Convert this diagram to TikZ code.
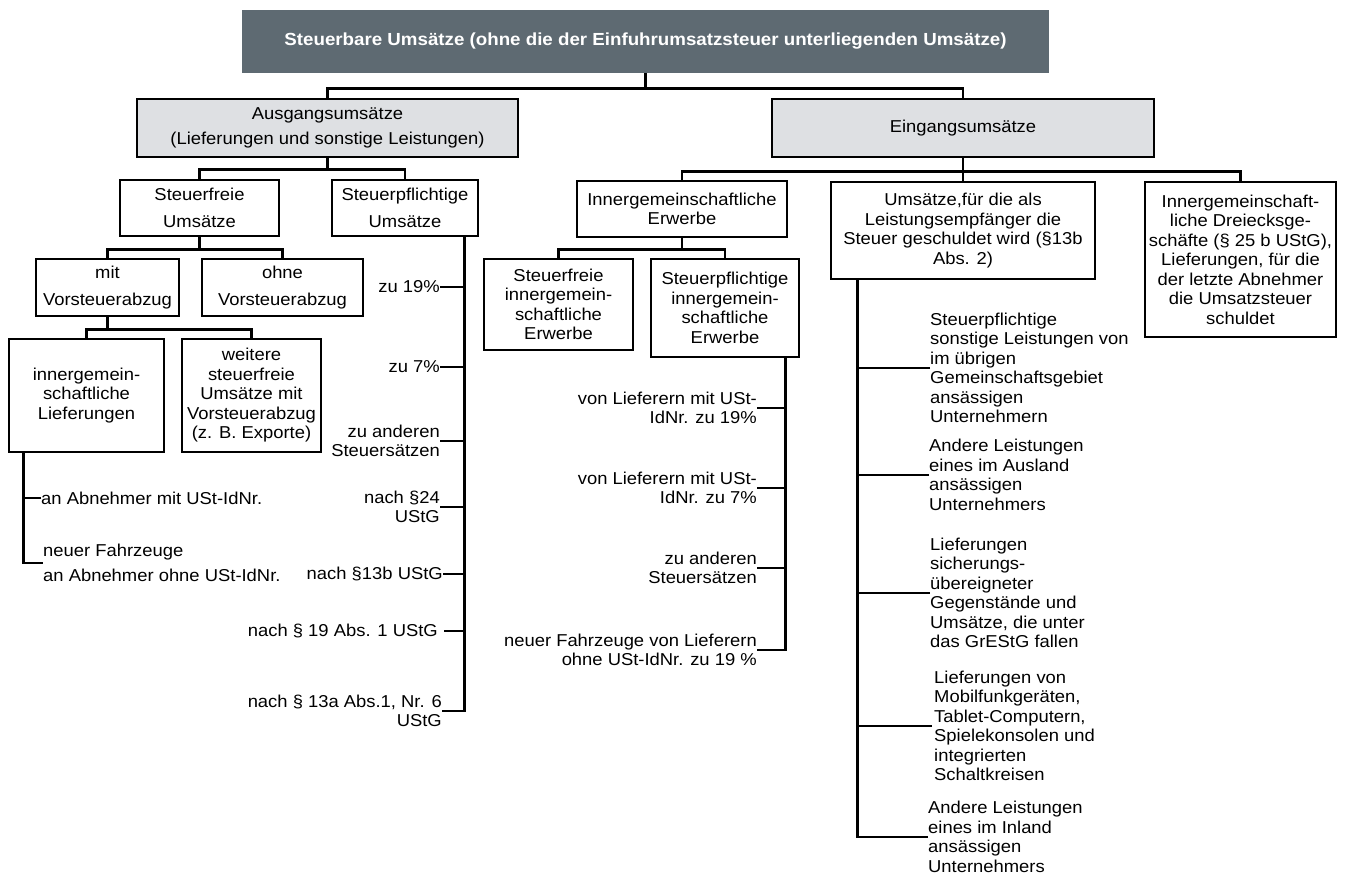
\documentclass[tikz,border=0pt]{standalone}
\usepackage{fontspec}
\setmainfont{Liberation Sans}[FakeStretch=1.07]
\definecolor{titlegray}{RGB}{94,106,114}
\definecolor{boxgray}{RGB}{222,224,227}
\newcommand\bodyfs{\fontsize{17.2}{19.5}\selectfont}
\newcommand\titlefs{\fontsize{17.5}{20}\selectfont\bfseries}
\begin{document}
\begin{tikzpicture}[x=1pt,y=-1pt,
  box/.style={draw, line width=2.5pt, align=center, inner sep=0pt, font=\bodyfs},
  conn/.style={line width=2.6pt},
  spine/.style={line width=2.8pt},
  lblR/.style={anchor=east, align=right, inner sep=0pt, font=\bodyfs},
  lblL/.style={anchor=west, align=left, inner sep=0pt, font=\bodyfs}]
\useasboundingbox (0,0) rectangle (1347,876);

% boxes
\node[fill=titlegray, text=white, minimum width=807pt, minimum height=63pt, inner sep=0pt, font=\titlefs] (top) at (645.5,41.5) {Steuerbare Umsätze (ohne die der Einfuhrumsatzsteuer unterliegenden Umsätze)};
\node[box, fill=boxgray, minimum width=381pt, minimum height=58pt] (ausg) at (327.5,128) {Ausgangsumsätze\\[5.5pt](Lieferungen und sonstige Leistungen)};
\node[box, fill=boxgray, minimum width=382pt, minimum height=58pt] (eing) at (963,128) {Eingangsumsätze};
\node[box, minimum width=159pt, minimum height=56pt] (sfrei) at (199.5,208) {Steuerfreie\\[7.5pt]Umsätze};
\node[box, minimum width=146pt, minimum height=56pt] (spfl) at (405,208) {Steuerpflichtige\\[7.5pt]Umsätze};
\node[box, minimum width=143pt, minimum height=57pt] (mit) at (107.5,287.5) {mit\\[7.5pt]Vorsteuerabzug};
\node[box, minimum width=161pt, minimum height=57pt] (ohne) at (282.5,287.5) {ohne\\[7.5pt]Vorsteuerabzug};
\node[box, minimum width=155pt, minimum height=113pt] (igl) at (86.5,395.5) {innergemein-\\schaftliche\\Lieferungen};
\node[box, minimum width=139pt, minimum height=113pt] (weit) at (251.5,395.5) {weitere\\steuerfreie\\Umsätze mit\\Vorsteuerabzug\\(z. B. Exporte)};
\node[box, minimum width=210pt, minimum height=56pt] (ige) at (682,209) {Innergemeinschaftliche\\Erwerbe};
\node[box, minimum width=149pt, minimum height=91pt] (sfige) at (558.5,304.5) {Steuerfreie\\innergemein-\\schaftliche\\Erwerbe};
\node[box, minimum width=148pt, minimum height=98pt] (spige) at (725,308) {Steuerpflichtige\\innergemein-\\schaftliche\\Erwerbe};
\node[box, minimum width=264pt, minimum height=97pt] (ums) at (963,230.5) {Umsätze,für die als\\Leistungsempfänger die\\Steuer geschuldet wird (§13b\\Abs. 2)};
\node[box, minimum width=191pt, minimum height=155pt] (drei) at (1240.5,259.5) {Innergemeinschaft-\\liche Dreiecksge-\\schäfte (§ 25 b UStG),\\Lieferungen, für die\\der letzte Abnehmer\\die Umsatzsteuer\\schuldet};

% tree connectors
\draw[conn] (top.south) -- ++(0,15) coordinate (j0);
\draw[conn] (ausg.north) |- (j0) -| (eing.north);
\draw[conn] (ausg.south) -- ++(0,11) coordinate (j1);
\draw[conn] (sfrei.north) |- (j1) -| (spfl.north);
\draw[conn] (sfrei.south) -- ++(0,12) coordinate (j2);
\draw[conn] (mit.north) |- (j2) -| (ohne.north);
\draw[conn] (mit.south) -- ++(0,12) coordinate (j3);
\draw[conn] (igl.north) |- (j3) -| (weit.north);
\draw[conn] (eing.south) -- ++(0,13) coordinate (j4);
\draw[conn] (ige.north) |- (j4) -| (drei.north);
\draw[conn] (j4) -- (ums.north);
\draw[conn] (ige.south) -- ++(0,11) coordinate (j5);
\draw[conn] (sfige.north) |- (j5) -| (spige.north);

% labels: Steuerpflichtige Umsaetze
\node[lblR] (lzu19) at (440,287) {zu 19\%};
\node[lblR] (lzu7) at (440,367) {zu 7\%};
\node[lblR] (lzuand) at (440,441) {zu anderen\\Steuersätzen};
\node[lblR] (l24) at (440,507) {nach §24\\UStG};
\node[lblR] (l13b) at (443,574) {nach §13b UStG};
\node[lblR] (l19) at (438,631) {nach § 19 Abs. 1 UStG};
\node[lblR] (l13a) at (442,711) {nach § 13a Abs.1, Nr. 6\\UStG};
\coordinate (s1) at ([xshift=-15pt]spfl.south east);
\draw[spine] (s1) |- (l13a.east);
\draw[conn] (lzu19.east) -- (lzu19.east -| s1);
\draw[conn] (lzu7.east) -- (lzu7.east -| s1);
\draw[conn] (lzuand.east) -- (lzuand.east -| s1);
\draw[conn] (l24.east) -- (l24.east -| s1);
\draw[conn] (l13b.east) -- (l13b.east -| s1);
\draw[conn] ([xshift=6pt]l19.east) -- (l19.east -| s1);

% labels: innergemeinschaftliche Lieferungen
\node[lblL] (lmit) at (41,498) {an Abnehmer mit USt-IdNr.};
\node[lblL] (lnf) at (43,563) {neuer Fahrzeuge\\[5.5pt]an Abnehmer ohne USt-IdNr.};
\coordinate (s2) at ([xshift=16pt]igl.south west);
\draw[spine] (s2) |- (lnf.west);
\draw[conn] (lmit.west) -- (lmit.west -| s2);

% labels: Steuerpflichtige innergemeinschaftliche Erwerbe
\node[lblR] (lv19) at (757,408) {von Lieferern mit USt-\\IdNr. zu 19\%};
\node[lblR] (lv7) at (757,488) {von Lieferern mit USt-\\IdNr. zu 7\%};
\node[lblR] (lza) at (757,568) {zu anderen\\Steuersätzen};
\node[lblR] (lnfz) at (757,650) {neuer Fahrzeuge von Lieferern\\ohne USt-IdNr. zu 19 \%};
\coordinate (s3) at ([xshift=-15pt]spige.south east);
\draw[spine] (s3) |- (lnfz.east);
\draw[conn] (lv19.east) -- (lv19.east -| s3);
\draw[conn] (lv7.east) -- (lv7.east -| s3);
\draw[conn] (lza.east) -- (lza.east -| s3);

% labels: Umsaetze 13b
\node[lblL] (ra1) at (930,368) {Steuerpflichtige\\sonstige Leistungen von\\im übrigen\\Gemeinschaftsgebiet\\ansässigen\\Unternehmern};
\node[lblL] (ra2) at (929,475) {Andere Leistungen\\eines im Ausland\\ansässigen\\Unternehmers};
\node[lblL] (ra3) at (930,593) {Lieferungen\\sicherungs-\\übereigneter\\Gegenstände und\\Umsätze, die unter\\das GrEStG fallen};
\node[lblL] (ra4) at (934,726) {Lieferungen von\\Mobilfunkgeräten,\\Tablet-Computern,\\Spielekonsolen und\\integrierten\\Schaltkreisen};
\node[lblL] (ra5) at (928,837) {Andere Leistungen\\eines im Inland\\ansässigen\\Unternehmers};
\coordinate (s4) at ([xshift=28pt]ums.south west);
\draw[spine] (s4) |- (ra5.west);
\draw[conn] (ra1.west) -- (ra1.west -| s4);
\draw[conn] (ra2.west) -- (ra2.west -| s4);
\draw[conn] (ra3.west) -- (ra3.west -| s4);
\draw[conn] ([xshift=-2pt]ra4.west) -- (ra4.west -| s4);
\end{tikzpicture}
\end{document}
